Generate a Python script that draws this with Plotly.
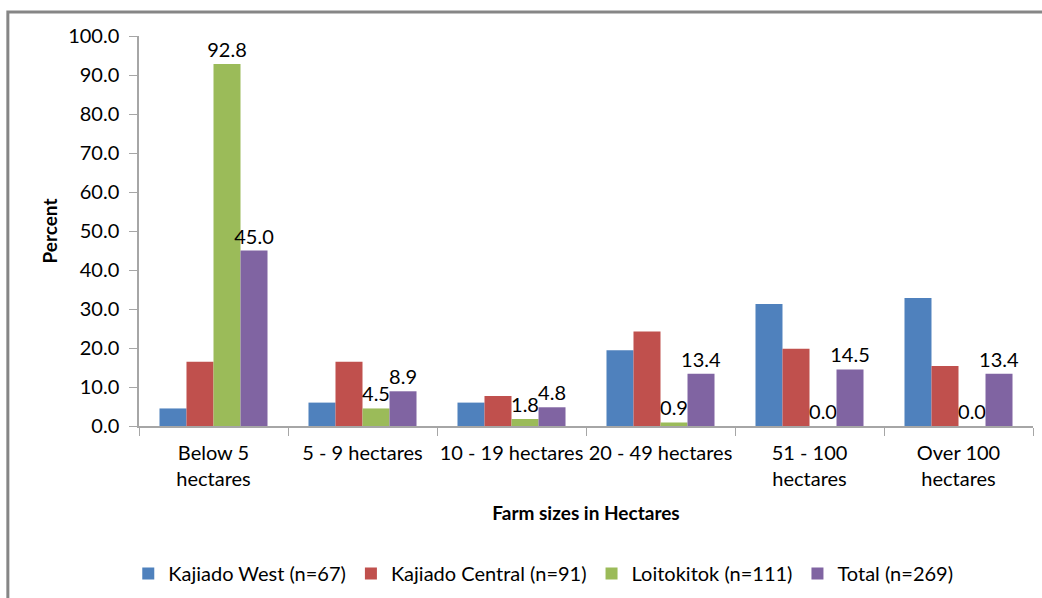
import plotly.graph_objects as go

categories = ["Below 5<br>hectares", "5 - 9 hectares", "10 - 19 hectares",
              "20 - 49 hectares", "51 - 100<br>hectares", "Over 100<br>hectares"]

kajiado_west = [4.5, 6.0, 6.0, 19.4, 31.3, 32.8]
kajiado_central = [16.5, 16.5, 7.7, 24.2, 19.8, 15.4]
loitokitok = [92.8, 4.5, 1.8, 0.9, 0.0, 0.0]
total = [45.0, 8.9, 4.8, 13.4, 14.5, 13.4]

series_names = ["Kajiado West (n=67)", "Kajiado Central (n=91)",
                "Loitokitok (n=111)", "Total (n=269)"]
series_colors = ["#4F81BD", "#C0504D", "#9BBB59", "#8064A2"]
labelled = [False, False, True, True]

y_ticks = [0, 10, 20, 30, 40, 50, 60, 70, 80, 90, 100]

FONT = "Lato, 'Open Sans', sans-serif"
SIZE = 20

fig = go.Figure()
for name, vals, color, lab in zip(series_names,
                                  [kajiado_west, kajiado_central, loitokitok, total],
                                  series_colors, labelled):
    fig.add_trace(go.Bar(
        x=categories, y=vals, name=name,
        marker=dict(color=color, line=dict(width=0)),
        text=[f"{v:.1f}" for v in vals] if lab else None,
        textposition="outside" if lab else "none",
        constraintext="none",
        textfont=dict(family=FONT, size=SIZE, color="#000000"),
        cliponaxis=False,
    ))

fig.update_layout(
    width=1042, height=598,
    margin=dict(l=139, r=9, t=36, b=172, autoexpand=False),
    barmode="group", bargap=0.275, bargroupgap=0,
    paper_bgcolor="white", plot_bgcolor="white",
    font=dict(family=FONT, size=SIZE, color="#000000"),
    showlegend=True,
    legend=dict(orientation="h", x=-0.012, xanchor="left", y=-0.378, yanchor="middle",
                font=dict(family=FONT, size=SIZE, color="#000000"),
                itemwidth=30, traceorder="normal"),
)

fig.update_xaxes(
    showline=True, linecolor="#A6A6A6", linewidth=1.5,
    ticks="outside", tickson="boundaries", ticklen=8, tickcolor="#A6A6A6",
    tickangle=0, automargin=False,
    ticklabelstandoff=8,
    tickfont=dict(family=FONT, size=SIZE, color="#000000"),
    title=dict(text="<b>Farm sizes in Hectares</b>", standoff=18,
               font=dict(family=FONT, size=19, color="#000000")),
    showgrid=False,
)
fig.update_yaxes(
    range=[0, 100], tickvals=y_ticks, tickformat=".1f",
    showline=True, linecolor="#A6A6A6", linewidth=1.5,
    ticks="outside", ticklen=8, tickcolor="#A6A6A6",
    automargin=False,
    ticklabelstandoff=6,
    tickfont=dict(family=FONT, size=SIZE, color="#000000"),
    title=dict(text="<b>Percent</b>", standoff=5,
               font=dict(family=FONT, size=19, color="#000000")),
    showgrid=False, zeroline=False,
)

# Chart frame
fig.add_shape(type="rect", xref="paper", yref="paper",
              x0=-131 / 893, x1=1.02, y0=-0.6, y1=1 + 24 / 390,
              line=dict(color="#868686", width=3), fillcolor="rgba(0,0,0,0)",
              layer="below")

fig.write_html("out.html")
